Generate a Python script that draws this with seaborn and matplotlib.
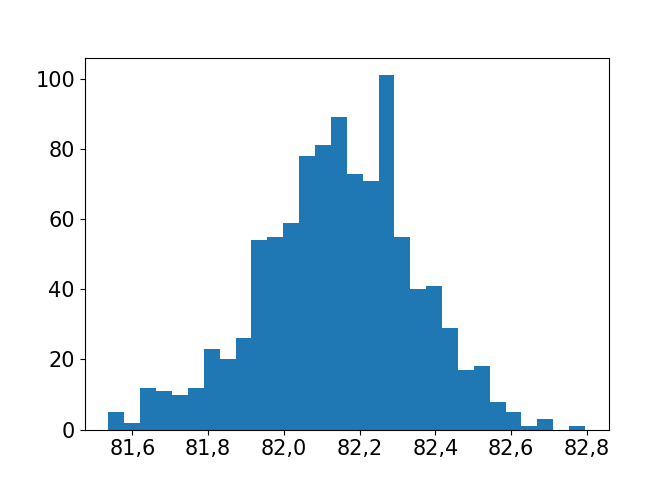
import numpy as np
import pandas as pd
import matplotlib
matplotlib.use("Agg")
import matplotlib.pyplot as plt
from matplotlib.ticker import FuncFormatter
import seaborn as sns

# Histogram data
bin_start = 81.537
bin_width = 0.04193
counts = [5, 2, 12, 11, 10, 12, 23, 20, 26, 54, 55, 59, 78, 81, 89,
          73, 71, 101, 55, 40, 41, 29, 17, 18, 8, 5, 1, 3, 0, 1]

n = len(counts)
edges = bin_start + bin_width * np.arange(n + 1)
centers = (edges[:-1] + edges[1:]) / 2
df = pd.DataFrame({"value": centers, "count": counts})

plt.rcParams['font.family'] = ['DejaVu Sans']
fig, ax = plt.subplots(figsize=(6.72, 4.8), dpi=100)
fig.subplots_adjust(left=0.126, right=0.906, bottom=0.105, top=0.88)
sns.histplot(data=df, x="value", weights="count", bins=list(edges), ax=ax,
             color="#1f77b4", alpha=1.0, linewidth=0, edgecolor="none")
ax.set_xlabel("")
ax.set_ylabel("")
ax.set_xticks([81.6, 81.8, 82.0, 82.2, 82.4, 82.6, 82.8])
ax.xaxis.set_major_formatter(FuncFormatter(lambda v, p: f"{v:.1f}".replace(".", ",")))
ax.tick_params(labelsize=15)
fig.savefig("out.png", dpi=100)
